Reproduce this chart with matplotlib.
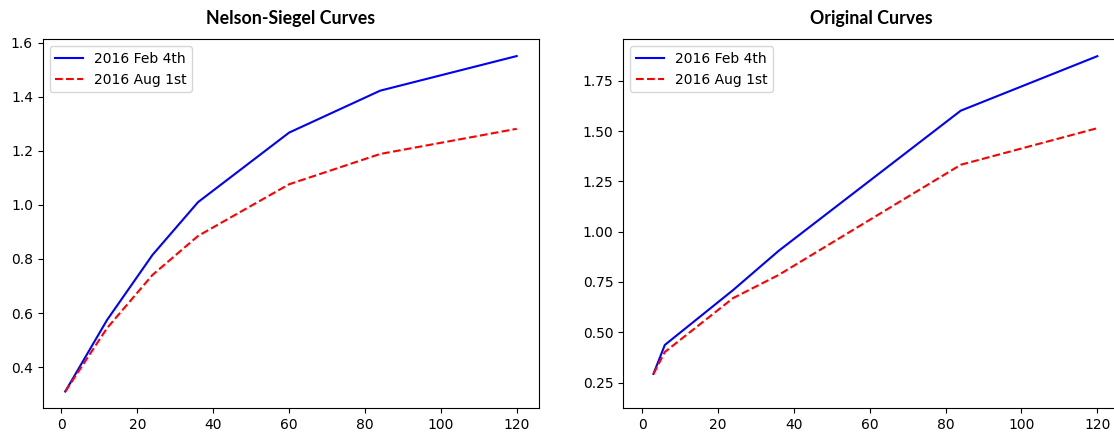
import matplotlib.pyplot as plt

# maturities in months
ns_months = [1, 12, 24, 36, 60, 84, 120]
ns_feb = [0.31, 0.574, 0.815, 1.01, 1.267, 1.422, 1.55]
ns_aug = [0.31, 0.544, 0.741, 0.885, 1.076, 1.188, 1.281]

orig_months = [3, 6, 24, 36, 84, 120]
orig_feb = [0.293, 0.437, 0.71, 0.905, 1.602, 1.873]
orig_aug = [0.293, 0.402, 0.67, 0.785, 1.333, 1.515]

labels = ["2016 Feb 4th", "2016 Aug 1st"]
titles = ["Nelson-Siegel Curves", "Original Curves"]

plt.rcParams['font.size'] = 10
plt.rcParams['legend.fancybox'] = True

fig = plt.figure(figsize=(11.14, 4.32), dpi=100)
ax1 = fig.add_axes([0.0383, 0.0549, 0.4458, 0.8542])
ax2 = fig.add_axes([0.5595, 0.0549, 0.4458, 0.8542])

ax1.plot(ns_months, ns_feb, color='b', lw=1.5, label=labels[0])
ax1.plot(ns_months, ns_aug, 'r--', lw=1.5, label=labels[1])

ax2.plot(orig_months, orig_feb, color='b', lw=1.5, label=labels[0])
ax2.plot(orig_months, orig_aug, 'r--', lw=1.5, label=labels[1])
ax2.set_xlim(-4.95, 125.95)
ax2.set_ylim(0.122, 1.957)

for ax, t in zip([ax1, ax2], titles):
    ax.set_title(t, fontsize=12.8, fontweight='bold', family=['Lato', 'DejaVu Sans'], pad=11)
    ax.legend(loc='upper left', framealpha=0.8)

fig.savefig("out.png", dpi=100)
